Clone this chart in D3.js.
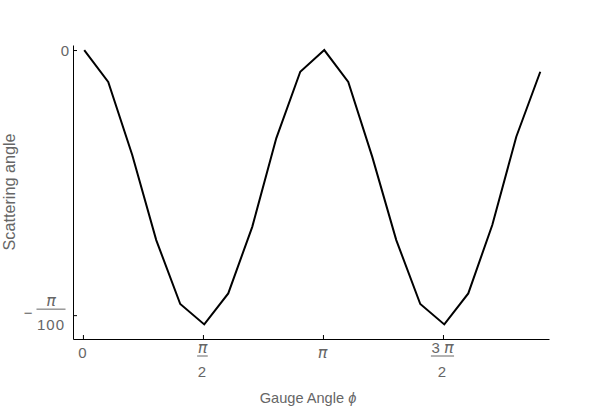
<!DOCTYPE html>
<html>
<head>
<meta charset="utf-8">
<script src="https://cdn.jsdelivr.net/npm/d3@7"></script>
<style>
  html, body { margin: 0; padding: 0; background: #fff; }
  svg { display: block; }
  text { font-family: "Liberation Sans", Arial, sans-serif; fill: #666; }
</style>
</head>
<body>
<svg id="chart" width="600" height="407"></svg>
<script>
// Gauge angle phi (radians), sampled every pi/10
const phiSteps = d3.range(0, 20);               // k = 0..19, phi = k*pi/10
const phiValues = phiSteps.map(k => k * Math.PI / 10);
// Scattering angle, in units of pi/100
const scatterValues = [0, -0.120, -0.396, -0.717, -0.958, -1.035, -0.918, -0.667, -0.333, -0.082,
                       0, -0.120, -0.403, -0.717, -0.958, -1.035, -0.918, -0.660, -0.327, -0.082];

const xTickValues = [0, Math.PI / 2, Math.PI, 3 * Math.PI / 2];
const xTickLabels = ["0", "π/2", "π", "3 π/2"];
const yTickValues = [0, -1];
const yTickLabels = ["0", "-π/100"];

const xLabel = "Gauge Angle ";
const yLabel = "Scattering angle";

const svg = d3.select("#chart");

const x = d3.scaleLinear().domain([-0.13, 6.10]).range([73, 549]);
const y = d3.scaleLinear().domain([0.019, -1.09]).range([45, 339]);

const axisColor = "#000";

// X axis
const gx = svg.append("g").attr("transform", `translate(0,${y(-1.09)})`)
  .call(d3.axisBottom(x).tickValues(xTickValues).tickSizeInner(-4).tickSizeOuter(0).tickFormat(""));
gx.select(".domain").attr("stroke", axisColor);
gx.selectAll(".tick line").attr("stroke", axisColor);

// Y axis
const gy = svg.append("g").attr("transform", `translate(${x(-0.13)},0)`)
  .call(d3.axisLeft(y).tickValues(yTickValues).tickSizeInner(-4).tickSizeOuter(0).tickFormat(""));
gy.select(".domain").attr("stroke", axisColor);
gy.selectAll(".tick line").attr("stroke", axisColor);

const fs = 15;

// write a string into a text element, setting π in an oblique face
function fillText(t, s) {
  s.split(/(π)/).filter(p => p.length).forEach(p => {
    const ts = t.append("tspan").text(p);
    if (p === "π") ts.attr("font-family", "'DejaVu Sans', sans-serif").attr("font-style", "italic").attr("font-size", 16);
  });
  return t;
}

// Draw a label: either plain text or a fraction "num/den", optionally with leading "-"
function drawLabel(g, label, cx, barY, plainBaseline, anchor) {
  let neg = false;
  let s = label;
  if (s.startsWith("-")) { neg = true; s = s.slice(1); }
  if (s.indexOf("/") < 0) {
    fillText(g.append("text").attr("x", cx).attr("y", plainBaseline)
      .attr("text-anchor", anchor).attr("font-size", fs), label);
    return;
  }
  const [num, den] = s.split("/");
  const tn = fillText(g.append("text").attr("x", cx).attr("y", barY - 3)
    .attr("text-anchor", "middle").attr("font-size", fs), num);
  const td = fillText(g.append("text").attr("x", cx).attr("y", barY + 21)
    .attr("text-anchor", "middle").attr("font-size", fs).attr("letter-spacing", 1), den);
  const w = Math.max(tn.node().getComputedTextLength(), td.node().getComputedTextLength()) + 1;
  g.append("line").attr("x1", cx - w / 2).attr("x2", cx + w / 2)
    .attr("y1", barY).attr("y2", barY).attr("stroke", "#666").attr("stroke-width", 1);
  if (neg) {
    g.append("text").attr("x", cx - w / 2 - 4).attr("y", barY + 8.5)
      .attr("text-anchor", "end").attr("font-family", "'DejaVu Sans', sans-serif")
      .attr("font-size", 15).text("\u2212");
  }
}

// X tick labels
const lg = svg.append("g");
xTickValues.forEach((v, i) => {
  drawLabel(lg, xTickLabels[i], x(v) - 0.5, 356, 358, "middle");
});
// Y tick labels
yTickValues.forEach((v, i) => {
  const lab = yTickLabels[i];
  if (lab.indexOf("/") < 0) {
    lg.append("text").attr("x", 69).attr("y", y(v) + 5.5)
      .attr("text-anchor", "end").attr("font-size", fs).text(lab);
  } else {
    drawLabel(lg, lab, 51, y(v) - 6, 0, "middle");
  }
});

// Axis titles
const xt = svg.append("text").attr("x", 308).attr("y", 402.5)
  .attr("text-anchor", "middle").attr("font-size", 14.6);
xt.append("tspan").text(xLabel);
xt.append("tspan").attr("font-style", "italic").text("ϕ");

svg.append("text").attr("transform", `translate(15,192) rotate(-90)`)
  .attr("text-anchor", "middle").attr("font-size", 16.2).text(yLabel);

// Curve
const line = d3.line().x((d, i) => x(phiValues[i]) + 1.3).y(d => y(d));
svg.append("path").datum(scatterValues)
  .attr("fill", "none").attr("stroke", "#000").attr("stroke-width", 2)
  .attr("stroke-linejoin", "miter").attr("d", line);
</script>
</body>
</html>
